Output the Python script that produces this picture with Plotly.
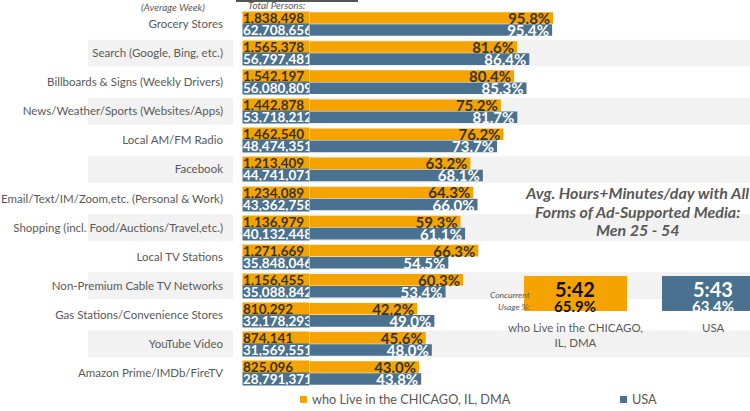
import plotly.graph_objects as go

# ---------------- data ----------------
categories = [
    "Grocery Stores",
    "Search (Google, Bing, etc.)",
    "Billboards & Signs (Weekly Drivers)",
    "News/Weather/Sports (Websites/Apps)",
    "Local AM/FM Radio",
    "Facebook",
    "Email/Text/IM/Zoom,etc. (Personal & Work)",
    "Shopping (incl. Food/Auctions/Travel,etc.)",
    "Local TV Stations",
    "Non-Premium Cable TV Networks",
    "Gas Stations/Convenience Stores",
    "YouTube Video",
    "Amazon Prime/IMDb/FireTV",
]
chicago_pct = [95.8, 81.6, 80.4, 75.2, 76.2, 63.2, 64.3, 59.3, 66.3, 60.3, 42.2, 45.6, 43.0]
usa_pct = [95.4, 86.4, 85.3, 81.7, 73.7, 68.1, 66.0, 61.1, 54.5, 53.4, 49.0, 48.0, 43.8]
chicago_total = [1838498, 1565378, 1542197, 1442878, 1462540, 1213409, 1234089,
                 1136979, 1271669, 1156455, 810292, 874141, 825096]
usa_total = [62708656, 56797481, 56080809, 53718212, 48474351, 44741071, 43362758,
             40132448, 35848046, 35088842, 32178293, 31569551, 28791371]
series_names = ["who Live in the CHICAGO, IL, DMA", "USA"]
summary_time = ["5:42", "5:43"]
summary_concurrent = ["65.9%", "63.4%"]
summary_labels = ["who Live in the CHICAGO,<br>IL, DMA", "USA"]

# ---------------- style ----------------
W, H = 750, 411
ORANGE = "#F5A300"
BLUE = "#4A7190"
DARK = "#3A3320"
GRAY_TXT = "#595959"
BAND = "#F2F2F2"
FONT = "Lato"

PX_PER_PCT = 2.538
ZERO_PX = 310
x_range = [-ZERO_PX / PX_PER_PCT, (W - ZERO_PX) / PX_PER_PCT]
plot_top_px, plot_bot_px = 9.5, 387.5


def px(xp):
    return xp / W


def py(yp):
    return 1 - yp / H


def note(x, y, text, size, color, xanchor="center", yanchor="middle", **kw):
    return dict(xref="paper", yref="paper", x=px(x), y=py(y), text=text, showarrow=False,
                xanchor=xanchor, yanchor=yanchor,
                font=dict(family=FONT, size=size, color=color), **kw)


fig = go.Figure()
colors = [ORANGE, BLUE]
txtcolors = [DARK, "white"]
for name, vals, c, tc in zip(series_names, [chicago_pct, usa_pct], colors, txtcolors):
    fig.add_trace(go.Bar(
        y=categories, x=vals, orientation="h", name=name,
        marker=dict(color=c, line=dict(width=0)),
        texttemplate="<b>%{x:.1f}%</b>", textposition="inside",
        insidetextanchor="end",
        textfont=dict(family=FONT, size=15, color=tc),
        showlegend=False, hoverinfo="skip",
    ))

shapes = []
annotations = []

# alternating gray bands
for i in range(len(categories)):
    if i % 2 == 1:
        shapes.append(dict(type="rect", xref="paper", yref="y", x0=px(88), x1=px(233),
                           y0=i - 0.46, y1=i + 0.46, fillcolor=BAND, line=dict(width=0),
                           layer="below"))
        shapes.append(dict(type="rect", xref="paper", yref="y", x0=px(310), x1=1,
                           y0=i - 0.46, y1=i + 0.46, fillcolor=BAND, line=dict(width=0),
                           layer="below"))

# total persons boxes
for i, cat in enumerate(categories):
    for tot, c, tc, ys in [(chicago_total[i], ORANGE, DARK, 6), (usa_total[i], BLUE, "white", -6)]:
        annotations.append(dict(
            xref="paper", yref="y", x=px(242), y=cat, yshift=ys, xanchor="left", yanchor="middle",
            text="<b>{:,}</b>".format(tot), showarrow=False, align="left",
            width=66, height=12, bgcolor=c, borderpad=0,
            font=dict(family=FONT, size=13.5, color=tc)))

# header texts
annotations.append(note(173, 7, "<i>(Average Week)</i>", 10, GRAY_TXT))
annotations.append(note(276, 5, "<i>Total Persons:</i>", 10, GRAY_TXT))
shapes.append(dict(type="line", xref="paper", yref="paper", x0=px(236), x1=px(358),
                   y0=py(1), y1=py(1), line=dict(color="#555555", width=2)))

# inset title
for txt, yy in [("Avg. Hours+Minutes/day with All", 192), ("Forms of Ad-Supported Media:", 211),
                ("Men 25 - 54", 229)]:
    annotations.append(note(637, yy, "<b><i>" + txt + "</i></b>", 16, GRAY_TXT))

# summary boxes
box_x = [(524, 627), (662, 750)]
centers = [575, 713]
for k in range(2):
    shapes.append(dict(type="rect", xref="paper", yref="paper", x0=px(box_x[k][0]), x1=px(box_x[k][1]),
                       y0=py(311), y1=py(276), fillcolor=colors[k], line=dict(width=0)))
    tcol = "#111111" if k == 0 else "white"
    annotations.append(note(centers[k], 289, "<b>" + summary_time[k] + "</b>", 20, tcol))
    annotations.append(note(centers[k], 306, "<b>" + summary_concurrent[k] + "</b>", 15, tcol))
    annotations.append(note(centers[k], 319, summary_labels[k], 11.5, GRAY_TXT, yanchor="top"))
annotations.append(note(532, 295, "<i>Concurrent</i>", 8.5, GRAY_TXT, xanchor="right"))
annotations.append(note(532, 307, "<i>Usage %:</i>", 8.5, GRAY_TXT, xanchor="right"))

# legend (manual)
leg_x = [300, 620]
for k in range(2):
    shapes.append(dict(type="rect", xref="paper", yref="paper", x0=px(leg_x[k]), x1=px(leg_x[k] + 7),
                       y0=py(403), y1=py(396), fillcolor=colors[k], line=dict(width=0)))
    annotations.append(note(leg_x[k] + 10, 399, series_names[k], 12.7, GRAY_TXT, xanchor="left"))

fig.update_layout(
    width=W, height=H,
    margin=dict(l=0, r=0, t=0, b=0),
    paper_bgcolor="white", plot_bgcolor="rgba(0,0,0,0)",
    barmode="group", bargap=0.17, bargroupgap=0.04,
    uniformtext=dict(minsize=15, mode="show"),
    xaxis=dict(range=x_range, domain=[0, 1], visible=False, fixedrange=True),
    yaxis=dict(type="category", categoryarray=categories, range=[12.5, -0.5],
               domain=[py(plot_bot_px), py(plot_top_px)], anchor="free", position=px(223),
               showgrid=False, zeroline=False, showline=False, ticks="", fixedrange=True,
               tickfont=dict(family=FONT, size=11.5, color=GRAY_TXT)),
    shapes=shapes, annotations=annotations,
    font=dict(family=FONT),
)

fig.write_html("out.html", config={"displayModeBar": False},
               post_script="document.body.style.margin='0px';document.body.style.padding='0px';")
